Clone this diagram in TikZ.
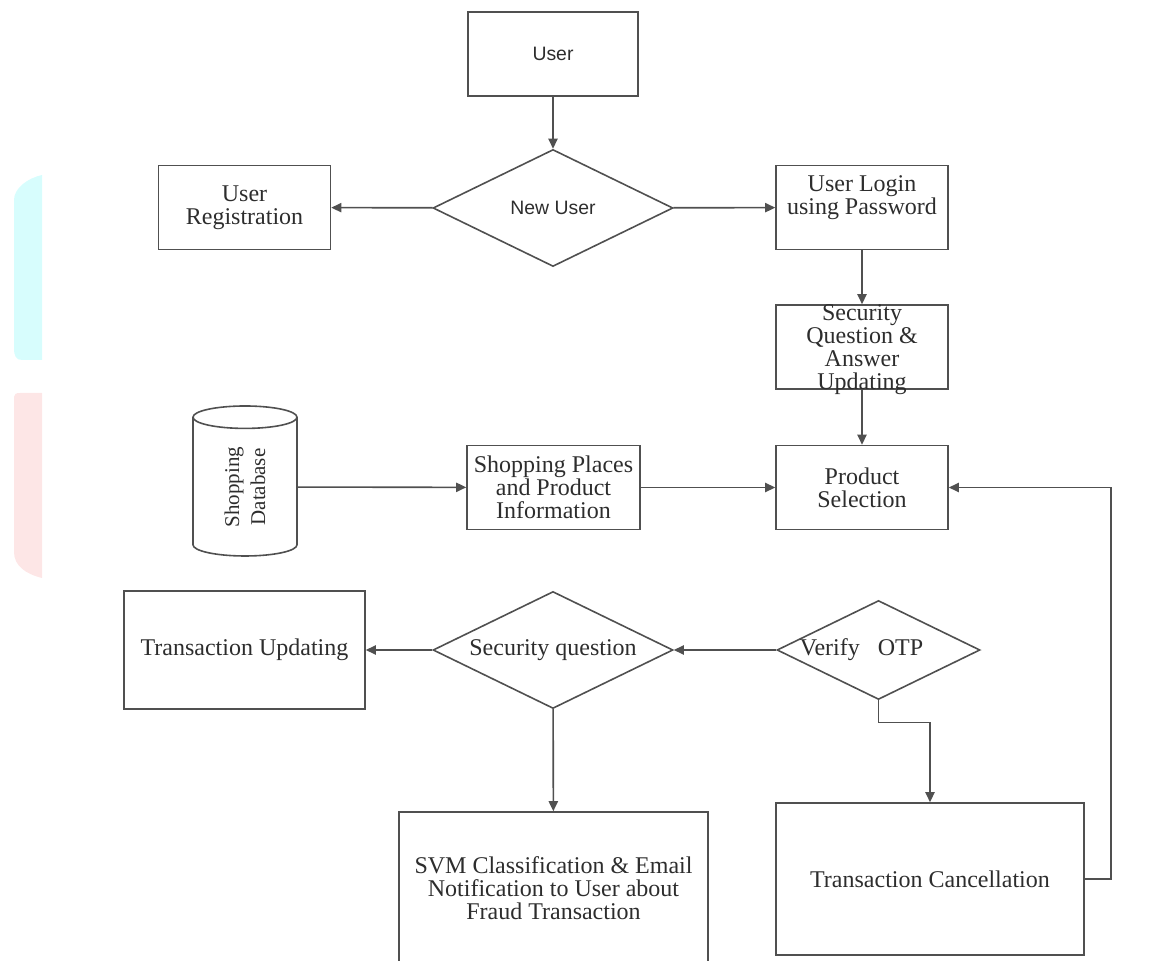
\documentclass[tikz,border=0pt]{standalone}
\usepackage{fontspec}
\setmainfont{Liberation Serif}
\newfontfamily\arialfont{Liberation Sans}
\usepackage{tikz}
\usetikzlibrary{shapes.geometric,arrows.meta,positioning,calc}
\definecolor{linegray}{RGB}{80,80,80}
\definecolor{textgray}{RGB}{45,45,45}
\definecolor{tabcyan}{RGB}{215,253,253}
\definecolor{tabpink}{RGB}{253,230,230}

\begin{document}
\begin{tikzpicture}[x=0.5pt, y=-0.5pt,
    box/.style={rectangle, draw=linegray, line width=0.8pt, minimum width=86pt, minimum height=42pt,
        inner sep=0pt, align=center, text=textgray, font=\fontsize{12}{11.5}\selectfont},
    dia/.style={diamond, aspect=2, draw=linegray, line width=0.8pt, inner sep=0pt,
        text=textgray, font=\fontsize{12}{11.5}\selectfont},
    sans/.style={font=\arialfont\fontsize{9.7}{11}\selectfont},
    lbl/.style={align=center, text=textgray, font=\fontsize{12}{11.5}\selectfont},
    arr/.style={-{Triangle[length=5pt, width=4.6pt]}, line width=0.8pt, draw=linegray}]

    \useasboundingbox (0,0) rectangle (1171,961);

    % Side tabs
    \fill[tabcyan] (42,175) -- (42,360) -- (22,360) .. controls (16,360) and (14,356) .. (14,348)
        -- (14,200) .. controls (14,188) and (28,178) .. (42,175) -- cycle;
    \fill[tabpink] (42,393) -- (42,578) .. controls (26,574) and (14,566) .. (14,552)
        -- (14,397) .. controls (14,394) and (16,393) .. (20,393) -- cycle;

    % User
    \node[box, sans, minimum width=85pt] (user) at (553,54) {User};
    \node[dia, sans, minimum width=120pt, minimum height=58.5pt] (newuser) at (553,208) {New User};

    % Registration and login
    \node[box] (reg) at (244.5,207.5) {User\\Registration};
    \node[box, label={[lbl, yshift=5pt]center:{User Login\\using Password}}] (login) at (862,207.5) {};
    \node[box, label={[lbl, yshift=-1.5pt]center:{Security\\Question \&\\Answer\\Updating}}] (secq) at (862,347) {};

    % Database
    \node[cylinder, draw=linegray, line width=0.8pt, rotate=90, minimum width=52pt, minimum height=75pt,
        aspect=0.55, inner sep=0pt, align=center, text=textgray, font=\fontsize{10.5}{13}\selectfont] (db) at (245,487) {Shopping\\Database};
    \node[box, minimum width=86.5pt] (shop) at (553.5,487.5) {Shopping Places\\and Product\\Information};
    \node[box] (prod) at (862,487.5) {Product\\Selection};

    % Checks
    \node[dia, minimum width=120pt, minimum height=58.5pt] (secdia) at (553,650) {Security question};
    \node[dia, minimum width=101.5pt, minimum height=49.5pt,
        label={[lbl, xshift=-8.5pt]center:Verify\hspace{9pt}OTP}] (otp) at (878.5,650) {};

    % Outcomes
    \node[box, minimum width=120.5pt, minimum height=59pt] (upd) at (244.5,650) {Transaction Updating};
    \node[box, minimum width=154.5pt, minimum height=76pt] (svm) at (553.5,888) {SVM Classification \& Email\\Notification to User about\\Fraud Transaction};
    \node[box, minimum width=154pt, minimum height=76pt] (cancel) at (930,879) {Transaction Cancellation};

    % Connectors
    \draw[arr] (user) -- (newuser);
    \draw[arr] (newuser) -- (reg);
    \draw[arr] (newuser) -- (login);
    \draw[arr] (login) -- (secq);
    \draw[arr] (secq) -- (prod);
    \draw[arr] (db) -- (shop);
    \draw[arr] (shop) -- (prod);
    \draw[arr] (otp) -- (secdia);
    \draw[arr] (secdia) -- (upd);
    \draw[arr] (secdia) -- (svm);
    \draw[arr] (otp.south) -- ++(0,22) -| (cancel.north);
    \draw[arr] (cancel.east) -- ++(26,0) |- (prod.east);
\end{tikzpicture}
\end{document}
